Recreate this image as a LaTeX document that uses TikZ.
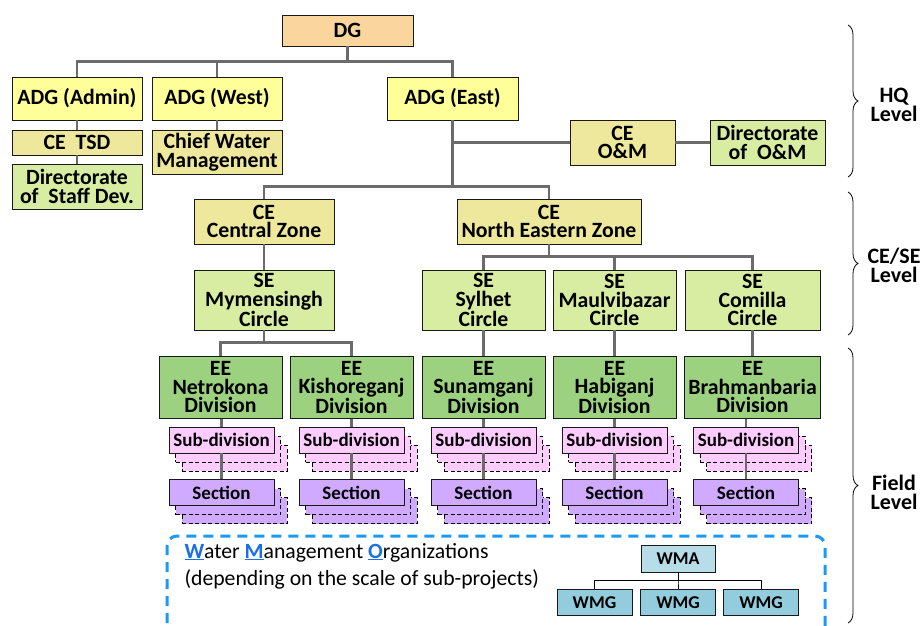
\documentclass[tikz,border=0pt]{standalone}
\usepackage{fontspec}
\setmainfont{Carlito}
\usetikzlibrary{positioning,shadows,decorations.pathreplacing}

\definecolor{dgfill}{HTML}{FAD59E}
\definecolor{adgfill}{HTML}{FFFF99}
\definecolor{cefill}{HTML}{EDE89C}
\definecolor{dirfill}{HTML}{D8ECA2}
\definecolor{eefill}{HTML}{9BD17F}
\definecolor{subfill}{HTML}{FFCCFF}
\definecolor{secfill}{HTML}{CFAAFF}
\definecolor{wmafill}{HTML}{B7DEE8}
\definecolor{wmgfill}{HTML}{93CDDD}
\definecolor{wmoblue}{HTML}{1A9AF5}
\definecolor{initblue}{HTML}{1A6FE6}
\definecolor{linkgray}{HTML}{6B6B6B}

% first letter of the WMO title
\newcommand{\wmoletter}[1]{{\color{initblue}\bfseries\underline{#1}}}

\begin{document}
\begin{tikzpicture}[x=1pt, y=1pt, node distance=44pt,
    box/.style={draw=black!90, line width=0.9pt, inner sep=0pt, align=center, font=\bfseries\fontsize{21.8}{18.5}\selectfont},
    dgbox/.style={box, fill=dgfill, minimum width=131pt, minimum height=31pt},
    adgbox/.style={box, fill=adgfill, minimum width=130pt, minimum height=43pt},
    cebox/.style={box, fill=cefill, minimum height=45pt},
    dirbox/.style={box, fill=dirfill, minimum height=45pt},
    sebox/.style={box, fill=dirfill, minimum width=123pt, minimum height=60pt},
    eebox/.style={box, fill=eefill, minimum width=123pt, minimum height=62pt},
    stack/.style={box, fill=#1, minimum width=105pt, minimum height=26pt, font=\bfseries\fontsize{19}{18}\selectfont,
        copy shadow={shadow xshift=13pt, shadow yshift=-18pt, fill=#1, draw=black, dash pattern=on 4pt off 2.5pt, line width=0.9pt},
        copy shadow={shadow xshift=6.5pt, shadow yshift=-9pt, fill=#1, draw=black, dash pattern=on 4pt off 2.5pt, line width=0.9pt}},
    wmbox/.style={box, fill=#1, minimum width=75pt, minimum height=27pt, font=\bfseries\fontsize{18}{18}\selectfont},
    link/.style={draw=linkgray, line width=2.4pt},
    wmlink/.style={draw=black, line width=1pt},
    elbow/.style={to path={-- ++(0,#1) -| (\tikztotarget)}},
    hv/.style={to path={|- (\tikztotarget)}},
    level/.style={align=center, font=\bfseries\fontsize{22}{19}\selectfont},
    levelbrace/.style={decorate, decoration={brace, amplitude=10pt}, line width=0.8pt},
    wmoframe/.style={draw=wmoblue, line width=3pt, dash pattern=on 10pt off 7pt, rounded corners=10pt}]

    \useasboundingbox (0,0) rectangle (921,-626);

    % HQ level
    \node[dgbox] (DG) at (347.5,-30.5) {DG};
    \node[adgbox] (ADGA) [below of=DG, xshift=-270.5, yshift=-24] {ADG (Admin)};
    \node[adgbox] (ADGW) [below of=DG, xshift=-130.5, yshift=-24] {ADG (West)};
    \node[adgbox] (ADGE) [below of=DG, xshift=105, yshift=-24, minimum width=131pt] {ADG (East)};

    \node[cebox, minimum width=130pt, minimum height=25pt] (TSD) [below of=ADGA] {CE~ TSD};
    \node[dirbox, minimum width=130pt] (SD) [below of=TSD] {Directorate\\of~ Staff Dev.};
    \node[cebox, minimum width=130pt, minimum height=44pt] (CWM) [below of=ADGW, yshift=-9.5] {Chief Water\\Management};
    \node[cebox, minimum width=105pt] (CEOM) [below of=ADGE, xshift=170] {CE\\O\&M};
    \node[dirbox, minimum width=115pt] (DOM) [right of=CEOM, xshift=101] {Directorate\\of~ O\&M};

    % CE/SE level
    \node[cebox, minimum width=140pt] (CECZ) [below of=ADGE, xshift=-188.5, yshift=-79] {CE\\Central Zone};
    \node[cebox, minimum width=184pt] (CENE) [below of=ADGE, xshift=96.5, yshift=-79] {CE\\North Eastern Zone};

    \node[sebox, minimum width=140pt] (SEM) [below of=CECZ, yshift=-34.5] {SE\\Mymensingh\\Circle};
    \node[sebox] (SES) [below of=CENE, xshift=-65.5, yshift=-34.5] {SE\\Sylhet\\Circle};
    \node[sebox] (SEMV) [below of=CENE, xshift=65.5, yshift=-34.5] {SE\\Maulvibazar\\Circle};
    \node[sebox, minimum width=135pt] (SEC) [below of=CENE, xshift=203.5, yshift=-34.5] {SE\\Comilla\\Circle};

    % field level
    \node[eebox] (EEN) [below of=SEM, xshift=-43.5, yshift=-43.5] {EE\\Netrokona\\Division};
    \node[eebox] (EEK) [below of=SEM, xshift=87.5, yshift=-43.5] {EE\\Kishoreganj\\Division};
    \node[eebox] (EES) [below of=SES, yshift=-43.5] {EE\\Sunamganj\\Division};
    \node[eebox] (EEH) [below of=SEMV, yshift=-43.5] {EE\\Habiganj\\Division};
    \node[eebox, minimum width=136pt] (EEB) [below of=SEC, yshift=-43.5] {EE\\Brahmanbaria\\Division};

    \path[every edge/.style=link]
        (DG.south) edge[elbow=-15] (ADGA.north)
                   edge[elbow=-15] (ADGW.north)
                   edge[elbow=-15] (ADGE.north)
        (ADGA.south) edge (TSD.north)
        (TSD.south) edge (SD.north)
        (ADGW.south) edge (CWM.north)
        (ADGE.south) edge[hv] (CEOM.west)
                     edge[elbow=-66] (CECZ.north)
                     edge[elbow=-66] (CENE.north)
        (CEOM.east) edge (DOM.west)
        (CECZ.south) edge (SEM.north)
        (CENE.south) edge[elbow=-12] (SES.north)
                     edge[elbow=-12] (SEMV.north)
                     edge[elbow=-12] (SEC.north)
        (SEM.south) edge[elbow=-12] (EEN.north)
                    edge[elbow=-12] (EEK.north)
        (SES.south) edge (EES.north)
        (SEMV.south) edge (EEH.north)
        (SEC.south) edge (EEB.north)
        ;

    % sub-divisions and sections under every division
    \foreach \ee/\dx in {EEN/1, EEK/0, EES/0, EEH/0, EEB/-6.5} {
        \node[stack=subfill, below of=\ee, xshift=\dx, yshift=-8.5] (sub\ee) {Sub-division};
        \node[stack=secfill, below of=sub\ee, yshift=-8.5] (sec\ee) {Section};
        \path[every edge/.style=link]
            (sub\ee.north |- \ee.south) edge (sub\ee.north)
            (sub\ee.south) edge (sec\ee.north);
    }

    % water management organizations
    \draw[wmoframe] (167,-640) |- (825,-536) -- (825,-640);
    \node[anchor=base west, font=\fontsize{21.7}{21}\selectfont] (wmo) at (181,-558)
        {\wmoletter{W}ater \wmoletter{M}anagement \wmoletter{O}rganizations};
    \node[anchor=base west, font=\fontsize{21.7}{21}\selectfont] (wmonote) at ([yshift=-27pt]wmo.base west)
        {(depending on the scale of sub-projects)};

    \node[wmbox=wmafill, minimum width=74pt] (WMA) at (678,-558.5) {WMA};
    \node[wmbox=wmgfill, minimum height=26pt] (WMG1) [below of=WMA, xshift=-83.5] {WMG};
    \node[wmbox=wmgfill, minimum height=26pt] (WMG2) [below of=WMA] {WMG};
    \node[wmbox=wmgfill, minimum height=26pt] (WMG3) [below of=WMA, xshift=83] {WMG};
    \path[every edge/.style=wmlink]
        (WMA.south) edge[elbow=-8] (WMG1.north)
                    edge[elbow=-8] (WMG2.north)
                    edge[elbow=-8] (WMG3.north);

    % levels
    \draw[levelbrace] (848,-25) -- (848,-177);
    \draw[levelbrace] (848,-192) -- (848,-335);
    \draw[levelbrace] (848,-348) -- (848,-623);
    \node[level] (hq) at (894,-105) {HQ\\Level};
    \node[level] (cese) at (894,-265) {CE/SE\\Level};
    \node[level] (field) at (894,-492) {Field\\Level};
\end{tikzpicture}
\end{document}
